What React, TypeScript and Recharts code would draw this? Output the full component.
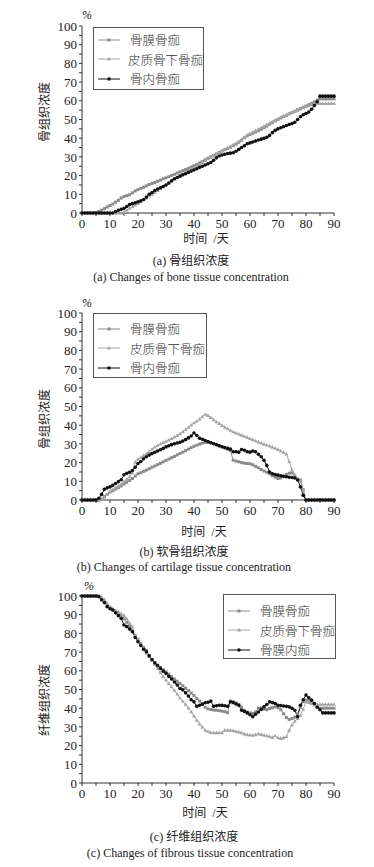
import React from "react";
import { LineChart, Line, XAxis, YAxis, Legend } from "recharts";

const SERIF = '"Liberation Serif", "Noto Sans CJK SC", serif';

// 时间（天）0..90
const days = Array.from({ length: 91 }, (_, i) => i);

const xTicks = [0, 5, 10, 15, 20, 25, 30, 35, 40, 45, 50, 55, 60, 65, 70, 75, 80, 85, 90];
const yTicks = [0, 5, 10, 15, 20, 25, 30, 35, 40, 45, 50, 55, 60, 65, 70, 75, 80, 85, 90, 95, 100];

const namesAB = ["骨膜骨痂", "皮质骨下骨痂", "骨内骨痂"];
const namesC = ["骨膜骨痂", "皮质骨下骨痂", "骨膜内痂"];

// (a) 骨组织浓度
const boneA1 = [
  0, 0, 0, 0, 0, 0.3, 0.8, 1.5, 2.3, 3.2,
  4, 4.8, 5.8, 6.8, 8, 8.8, 9.3, 9.8, 10.8, 11.8,
  12.5, 13.2, 13.8, 14.5, 15.2, 15.8, 16.3, 17, 17.6, 18.3,
  18.8, 19.4, 20.1, 20.7, 21.4, 22, 22.6, 23.2, 23.9, 24.6,
  25.3, 26, 26.8, 27.6, 28.5, 29.3, 30.1, 30.8, 31.6, 32.4,
  33.1, 33.8, 34.5, 35.2, 36, 36.8, 37.8, 38.9, 40.2, 41.2,
  42, 42.6, 43.3, 44, 44.8, 45.6, 46.5, 47.4, 48.3, 49.2,
  50, 50.8, 51.5, 52.2, 53, 53.7, 54.4, 55.1, 55.8, 56.5,
  57.2, 57.9, 58.6, 59.4, 60.3, 61, 61, 61, 61, 61, 61,
];
const boneA2 = [
  0, 0, 0, 0, 0, 0, 0, 0, 0, 0,
  0, 0, 0, 0, 0, 0.5, 1.5, 2.5, 3.3, 4.2,
  5, 6, 7, 8, 9, 10, 11, 12, 13, 14,
  15, 16, 17, 18, 19, 20, 20.8, 21.7, 22.6, 23.4,
  24.2, 25.1, 26, 27, 28, 29, 29.8, 30.6, 31.4, 32.3,
  33.2, 34, 34.8, 35.6, 36.4, 37.2, 38.2, 39.3, 40.5, 41.5,
  42.4, 43.2, 44, 44.8, 45.6, 46.4, 47.2, 48, 48.8, 49.6,
  50.4, 51.2, 51.9, 52.5, 53.2, 53.8, 54.4, 55, 55.6, 56.2,
  56.8, 57.3, 57.9, 58.5, 58.5, 58.5, 58.5, 58.5, 58.5, 58.5, 58.5,
];
const boneA3 = [
  0, 0, 0, 0, 0, 0, 0, 0, 0, 0,
  0, 0, 0.8, 1.5, 2, 2.5, 3.5, 4.5, 5, 5.5,
  6, 6.5, 7.2, 8.5, 10, 11, 12, 12.8, 13.5, 14.2,
  15, 16, 17.2, 18.3, 19, 19.7, 20.4, 21, 21.7, 22.4,
  23, 23.7, 24.4, 25, 25.7, 26.3, 27, 28.2, 29.5, 30.5,
  31, 31.4, 31.8, 32, 32.2, 33, 34, 35, 36, 37,
  37.5, 38, 38.5, 39, 39.5, 40, 40.5, 41.5, 43, 44.2,
  45, 45.6, 46.2, 46.8, 47.3, 47.8, 48.5, 50, 51.5, 52.5,
  53.2, 54, 55.5, 57.5, 59.5, 62.5, 62.5, 62.5, 62.5, 62.5, 62.5,
];

// (b) 软骨组织浓度
const cartB1 = [
  0, 0, 0, 0, 0, 0, 0, 0.5, 1.8, 3,
  4.2, 5, 5.8, 6.6, 7.5, 8.5, 9.5, 10.5, 11.5, 12.8,
  14, 14.6, 15.3, 16, 16.7, 17.5, 18.2, 18.9, 19.6, 20.4,
  21.2, 21.9, 22.6, 23.3, 24.1, 24.9, 25.6, 26.4, 27.2, 28,
  28.7, 29.3, 29.9, 30.4, 30.8, 31, 30.7, 30.2, 29.6, 29,
  28.4, 27.8, 27.2, 26.5, 21.3, 20.8, 20.4, 20, 19.7, 19.5,
  19.4, 18.8, 18, 17.2, 16.3, 15.5, 14.8, 14, 13, 12.2,
  11.5, 11.8, 12.5, 13.6, 14.3, 14.5, 12.5, 11.2, 10.7, 5.5,
  0, 0, 0, 0, 0, 0, 0, 0, 0, 0, 0,
];
const cartB2 = [
  0, 0, 0, 0, 0, 0, 0, 0.5, 1.5, 3,
  4.5, 5.5, 6.5, 7.5, 8.5, 9.8, 11, 12.5, 14.5, 20.3,
  21.8, 22.8, 23.8, 24.8, 25.8, 27.2, 28.3, 29.2, 30, 30.7,
  31.3, 32, 32.8, 33.6, 34.5, 35.4, 36.5, 37.6, 38.8, 40,
  41.2, 42.2, 43.3, 44.5, 45.8, 45.2, 44.1, 42.9, 41.8, 40.8,
  39.8, 38.9, 38, 37.2, 36.4, 35.8, 35.2, 34.6, 34, 33.4,
  32.8, 32.2, 31.6, 31, 30.4, 29.8, 29.3, 28.8, 28.2, 27.6,
  27, 26.2, 25.4, 24.6, 20.5, 16, 13.5, 11.2, 10, 5,
  0, 0, 0, 0, 0, 0, 0, 0, 0, 0, 0,
];
const cartB3 = [
  0, 0, 0, 0, 0, 0, 0.9, 3, 5.7, 6.5,
  7, 7.8, 8.8, 9.8, 10.8, 13.5, 14.3, 14.8, 15.8, 17.5,
  19.5, 20.6, 22, 23.1, 24, 24.8, 25.5, 26.2, 26.9, 27.6,
  28.4, 29, 29.6, 30.1, 30.5, 30.9, 31.5, 32.3, 33.2, 34.2,
  35.8, 34.5, 33, 32.5, 31.8, 31.2, 30.6, 30.1, 29.6, 29,
  28.5, 28.1, 27.6, 27.2, 25.8, 25.8, 25.6, 27, 26.6, 25.8,
  25.6, 26.2, 25.8, 24.5, 23.1, 21.2, 18.5, 15, 14, 13.6,
  13.3, 13, 12.7, 12.4, 12.2, 12, 11.8, 10.7, 7, 2.5,
  0, 0, 0, 0, 0, 0, 0, 0, 0, 0, 0,
];

// (c) 纤维组织浓度
const fibC1 = [
  100, 100, 100, 100, 100, 100, 100, 98, 96.5, 95,
  93.8, 92.5, 91.2, 90, 89, 87.8, 86, 84, 81.5, 79,
  76.8, 74.5, 72.5, 71, 68, 66, 64.5, 63, 61.8, 60.6,
  59.5, 58.2, 56.9, 55.6, 54.4, 53.2, 52, 50.7, 49.4, 48.1,
  46.8, 45.2, 43.8, 42, 40.5, 39.6, 39.3, 39, 38.9, 38.7,
  38.4, 38.1, 37.6, 43.8, 43.4, 42.8, 42, 40.5, 38.9, 38,
  37.5, 37.2, 38, 40, 40.2, 39.5, 39.2, 39.8, 40.3, 40.7,
  40.2, 39.2, 37, 35, 34, 34.5, 35.2, 37, 40.5, 43.5,
  44.3, 43.5, 42.7, 41.8, 40.8, 40, 40, 40, 40, 40, 40,
];
const fibC2 = [
  100, 100, 100, 100, 100, 100, 100, 99.5, 98.2, 96,
  94.2, 93.2, 92.2, 91.5, 90.6, 89.5, 87.8, 85.5, 83.6, 78.5,
  76.2, 74, 71.6, 69.4, 67.4, 65.7, 63.5, 61.2, 59, 56.8,
  55, 53.2, 51.4, 49.5, 47.5, 45.5, 43.6, 42, 40, 38,
  35.8, 33.5, 31.5, 29.8, 28.2, 27.6, 26.9, 26.8, 26.8, 26.8,
  26.9, 28.2, 28.2, 28.1, 28, 27.5, 27.2, 26.8, 26.2, 25.8,
  25.6, 25.5, 25.8, 26.3, 25.9, 25.5, 25.2, 24.8, 24.3, 25.2,
  24.2, 23.8, 24.2, 24.8, 28.2, 31, 33, 34.5, 36.2, 39.5,
  43.4, 43, 42.5, 42.2, 42, 42, 42, 42, 42, 42, 42,
];
const fibC3 = [
  100, 100, 100, 100, 100, 100, 99.6, 98, 96.5, 94.3,
  93.2, 92.5, 91, 89.5, 88, 84.5, 83.6, 82.3, 80.9, 77.8,
  75.5, 73.5, 71.5, 70.2, 68, 66, 64.2, 62.8, 61.3, 59.8,
  58.6, 57, 55.6, 54, 52.4, 50.5, 49.8, 48.2, 46.5, 44.5,
  43.4, 41, 41.6, 42.2, 42.9, 43.2, 43.8, 41, 41.3, 41.6,
  41.5, 41.3, 41, 43.4, 43, 42.3, 41.6, 38.9, 38.2, 37.5,
  36.5, 35.4, 36.8, 38, 39.3, 40.7, 42, 43.4, 43, 42.5,
  41.6, 41.4, 41.2, 41, 40.7, 40, 38.9, 35.4, 41.6, 44.5,
  47, 45.5, 44.3, 42.5, 40.5, 39.2, 37.5, 37.5, 37.5, 37.5, 37.5,
];

const C_SQ = "#8a8a8a";
const C_TRI = "#a6a6a6";
const C_DOT = "#111";

const build = (a: number[], b: number[], c: number[]) =>
  days.map((d, i) => ({ day: d, s0: a[i], s1: b[i], s2: c[i] }));

const squareDot = (p: any) =>
  p.cx == null ? null : (
    <rect key={`sq-${p.index}`} x={p.cx - 1.5} y={p.cy - 1.5} width={3} height={3} fill={C_SQ} />
  );
const triDot = (p: any) =>
  p.cx == null ? null : (
    <polygon
      key={`tr-${p.index}`}
      points={`${p.cx},${p.cy - 2.2} ${p.cx - 2},${p.cy + 1.4} ${p.cx + 2},${p.cy + 1.4}`}
      fill={C_TRI}
    />
  );
const roundDot = (p: any) =>
  p.cx == null ? null : <circle key={`ci-${p.index}`} cx={p.cx} cy={p.cy} r={1.8} fill={C_DOT} />;

const markers = ["sq", "tri", "dot"];
const colors = [C_SQ, C_TRI, C_DOT];

const LegendIcon = ({ kind, color }: { kind: string; color: string }) => (
  <svg width={24} height={10} style={{ display: "block" }}>
    <line x1={0} x2={22} y1={5} y2={5} stroke={color} strokeWidth={1} />
    {kind === "sq" && <rect x={9.5} y={3.5} width={3} height={3} fill={color} />}
    {kind === "tri" && <polygon points="11,2.8 9,6.4 13,6.4" fill={color} />}
    {kind === "dot" && <circle cx={11} cy={5} r={1.8} fill={color} />}
  </svg>
);

const makeLegend = (names: string[], padTop: number) => () => (
  <div
    style={{
      border: "1px solid #555",
      background: "#fff",
      boxSizing: "border-box",
      width: "100%",
      height: "100%",
      paddingTop: padTop,
      paddingLeft: 4,
    }}
  >
    {names.map((n, i) => (
      <div key={n} style={{ display: "flex", alignItems: "center", height: 19.5 }}>
        <LegendIcon kind={markers[i]} color={colors[i]} />
        <span
          style={{
            marginLeft: 8,
            fontFamily: SERIF,
            fontSize: 12.5,
            fontWeight: 300,
            color: "#333",
            whiteSpace: "nowrap",
          }}
        >
          {n}
        </span>
      </div>
    ))}
  </div>
);

const Txt = ({ x, y, size = 12, rotate = 0, children, italic = false }: any) => (
  <div
    style={{
      position: "absolute",
      left: x,
      top: y,
      transform: `translate(-50%, -50%) rotate(${rotate}deg)`,
      fontFamily: SERIF,
      fontSize: size,
      fontStyle: italic ? "italic" : "normal",
      color: "#222",
      whiteSpace: "nowrap",
      lineHeight: 1,
    }}
  >
    {children}
  </div>
);

const axisFont = { fontSize: 13, fill: "#222", fontFamily: SERIF };
const fmt = (v: number) => (v % 10 === 0 ? String(v) : "");

interface PanelProps {
  top: number;
  data: any[];
  names: string[];
  legend: { left: number; top: number; width: number; height: number; pad: number };
}

const Panel = ({ top, data, names, legend }: PanelProps) => (
  <div style={{ position: "absolute", left: 0, top, width: 374, height: 233 }}>
    <LineChart width={374} height={233} data={data} margin={{ top: 26, right: 40, left: 42, bottom: 0 }}>
      <XAxis
        dataKey="day"
        type="number"
        domain={[0, 90]}
        ticks={xTicks}
        interval={0}
        tickFormatter={fmt}
        height={20}
        tickSize={3}
        tickMargin={3}
        axisLine={{ stroke: "#333" }}
        tickLine={{ stroke: "#333" }}
        tick={axisFont}
      />
      <YAxis
        type="number"
        domain={[0, 100]}
        ticks={yTicks}
        interval={0}
        tickFormatter={fmt}
        width={40}
        tickSize={3}
        tickMargin={2}
        axisLine={{ stroke: "#333" }}
        tickLine={{ stroke: "#333" }}
        tick={axisFont}
      />
      <Legend
        layout="vertical"
        align="center"
        verticalAlign="middle"
        content={makeLegend(names, legend.pad)}
        wrapperStyle={{ left: legend.left, top: legend.top, width: legend.width, height: legend.height }}
      />
      <Line dataKey="s0" name={names[0]} stroke={C_SQ} strokeWidth={1} dot={squareDot} isAnimationActive={false} />
      <Line dataKey="s1" name={names[1]} stroke={C_TRI} strokeWidth={1} dot={triDot} isAnimationActive={false} />
      <Line dataKey="s2" name={names[2]} stroke={C_DOT} strokeWidth={1} dot={roundDot} isAnimationActive={false} />
    </LineChart>
  </div>
);

export default function App() {
  return (
    <div style={{ position: "absolute", left: 0, top: 0, width: 374, height: 867, background: "#fff" }}>
      <Panel
        top={0}
        data={build(boneA1, boneA2, boneA3)}
        names={namesAB}
        legend={{ left: 93, top: 27, width: 111, height: 63, pad: 2 }}
      />
      <Txt x={87} y={15} italic>%</Txt>
      <Txt x={45} y={112} rotate={-90}>骨组织浓度</Txt>
      <Txt x={206} y={239}>时间&nbsp;&nbsp;/天</Txt>
      <Txt x={191} y={261}>(a) 骨组织浓度</Txt>
      <Txt x={191} y={277}>(a) Changes of bone tissue concentration</Txt>

      <Panel
        top={287}
        data={build(cartB1, cartB2, cartB3)}
        names={namesAB}
        legend={{ left: 93, top: 26, width: 114, height: 65, pad: 5 }}
      />
      <Txt x={87} y={303} italic>%</Txt>
      <Txt x={45} y={419} rotate={-90}>骨组织浓度</Txt>
      <Txt x={204} y={532}>时间&nbsp;&nbsp;/天</Txt>
      <Txt x={184} y={552}>(b) 软骨组织浓度</Txt>
      <Txt x={184} y={567}>(b) Changes of cartilage tissue concentration</Txt>

      <Panel
        top={570}
        data={build(fibC1, fibC2, fibC3)}
        names={namesC}
        legend={{ left: 223, top: 24, width: 113, height: 65, pad: 6 }}
      />
      <Txt x={89} y={586} italic>%</Txt>
      <Txt x={45} y={700} rotate={-90}>纤维组织浓度</Txt>
      <Txt x={205} y={813}>时间&nbsp;&nbsp;/天</Txt>
      <Txt x={194} y={837}>(c) 纤维组织浓度</Txt>
      <Txt x={190} y={853}>(c) Changes of fibrous tissue concentration</Txt>
    </div>
  );
}
